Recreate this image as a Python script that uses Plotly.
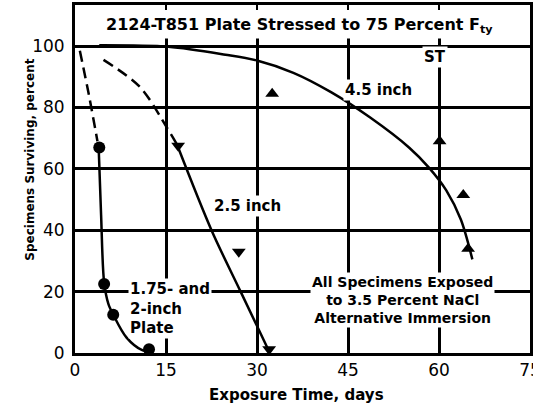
import plotly.graph_objects as go

# measured points
days_circle = [4.0, 4.8, 6.3, 12.2]
surv_circle = [67, 22.5, 12.5, 1.2]
days_down = [17.0, 27.0, 32.0]
surv_down = [67.5, 33, 1.2]
days_up = [32.5, 60.1, 64.0, 64.8]
surv_up = [84.5, 69, 51.5, 34]

# faired curves
fit175_dash_x = [0.8, 2.3, 3.7]
fit175_dash_y = [98.5, 84, 69]
fit175_x = [3.9, 4.3, 4.8, 5.5, 6.3, 8.5, 11.0, 12.5]
fit175_y = [67, 45, 23, 16, 12.5, 5, 1, 0.5]
fit25_dash_x = [4.7, 10.7, 15.1, 16.8]
fit25_dash_y = [95.5, 86.7, 73.6, 68]
fit25_x = [16.8, 22.5, 27.3, 32.0]
fit25_y = [68, 40, 20, 0.5]
fit45_x = [4, 15.4, 24.8, 30, 36, 42.2, 48.6, 55.1, 58.3, 61.2, 63.6, 65.5]
fit45_y = [100.3, 99.8, 97.2, 95.3, 91.3, 85, 76.8, 66.9, 60.5, 53, 43.5, 30.5]

x_ticks = [0, 15, 30, 45, 60, 75]
y_ticks = [0, 20, 40, 60, 80, 100]


def bold(size):
    return dict(family="DejaVu Sans", size=size, color="black", weight="bold")


fig = go.Figure()


def curve(x, y, dash="solid"):
    fig.add_trace(go.Scatter(x=x, y=y, mode="lines", line_shape="spline",
                             line=dict(color="black", width=2.5, dash=dash, smoothing=0.9),
                             showlegend=False, hoverinfo="skip"))


curve(fit175_dash_x, fit175_dash_y, "11px,6px")
curve(fit175_x, fit175_y)
curve(fit25_dash_x, fit25_dash_y, "11px,6px")
curve(fit25_x, fit25_y)
curve(fit45_x, fit45_y)

for x, y, sym in [(days_circle, surv_circle, "circle"),
                  (days_down, surv_down, "triangle-down"),
                  (days_up, surv_up, "triangle-up")]:
    fig.add_trace(go.Scatter(x=x, y=y, mode="markers", showlegend=False,
                             marker=dict(symbol=sym, size=12, color="black")))

# blank band above the 100 percent line (title area)
fig.add_shape(type="rect", xref="x", yref="y", x0=0, x1=75, y0=102.5, y1=113.4,
              fillcolor="white", line_width=0, layer="between")


def label(x, y, text, size=14, **kw):
    fig.add_annotation(x=x, y=y, text=text, showarrow=False, font=bold(size),
                       bgcolor="white", **kw)


label(37, 106.8, "2124-T851 Plate Stressed to 75 Percent F<sub>ty</sub>", size=16)
label(59.3, 96.4, "ST", size=15)
label(50.1, 85.7, "4.5 inch", size=15)
label(28.5, 47.9, "2.5 inch", size=15)
label(8.7, 14.6, "1.75- and<br>2-inch<br>Plate", size=15, xanchor="left", align="left")
label(54, 17.2, "All Specimens Exposed<br>to 3.5 Percent NaCl<br>Alternative Immersion", size=14)

fig.add_annotation(xref="paper", yref="paper", x=0.486, y=-0.12, yanchor="middle",
                   text="Exposure Time, days", showarrow=False, font=bold(15))
fig.add_annotation(xref="paper", yref="paper", x=-0.119, y=0.555, textangle=-90,
                   text="Specimens Surviving, percent", showarrow=False, font=bold(12))

axis = dict(showline=True, linecolor="black", linewidth=3, mirror="ticks",
            ticks="inside", ticklen=5, tickwidth=2, tickcolor="black",
            showgrid=True, gridcolor="black", gridwidth=2.5, zeroline=False,
            automargin=False,
            tickfont=dict(family="DejaVu Sans", size=17, color="black"))

fig.update_layout(
    width=533, height=411,
    margin=dict(l=75, r=3, t=5, b=58),
    plot_bgcolor="white", paper_bgcolor="white",
    xaxis=dict(range=[0, 75], tickvals=x_ticks, ticklabeloverflow="allow", **axis),
    yaxis=dict(range=[0, 113.4], tickvals=y_ticks, ticklabelstandoff=4, **axis),
)

fig.write_html("out.html", config={"displayModeBar": False},
               post_script="document.body.style.margin='0';")
